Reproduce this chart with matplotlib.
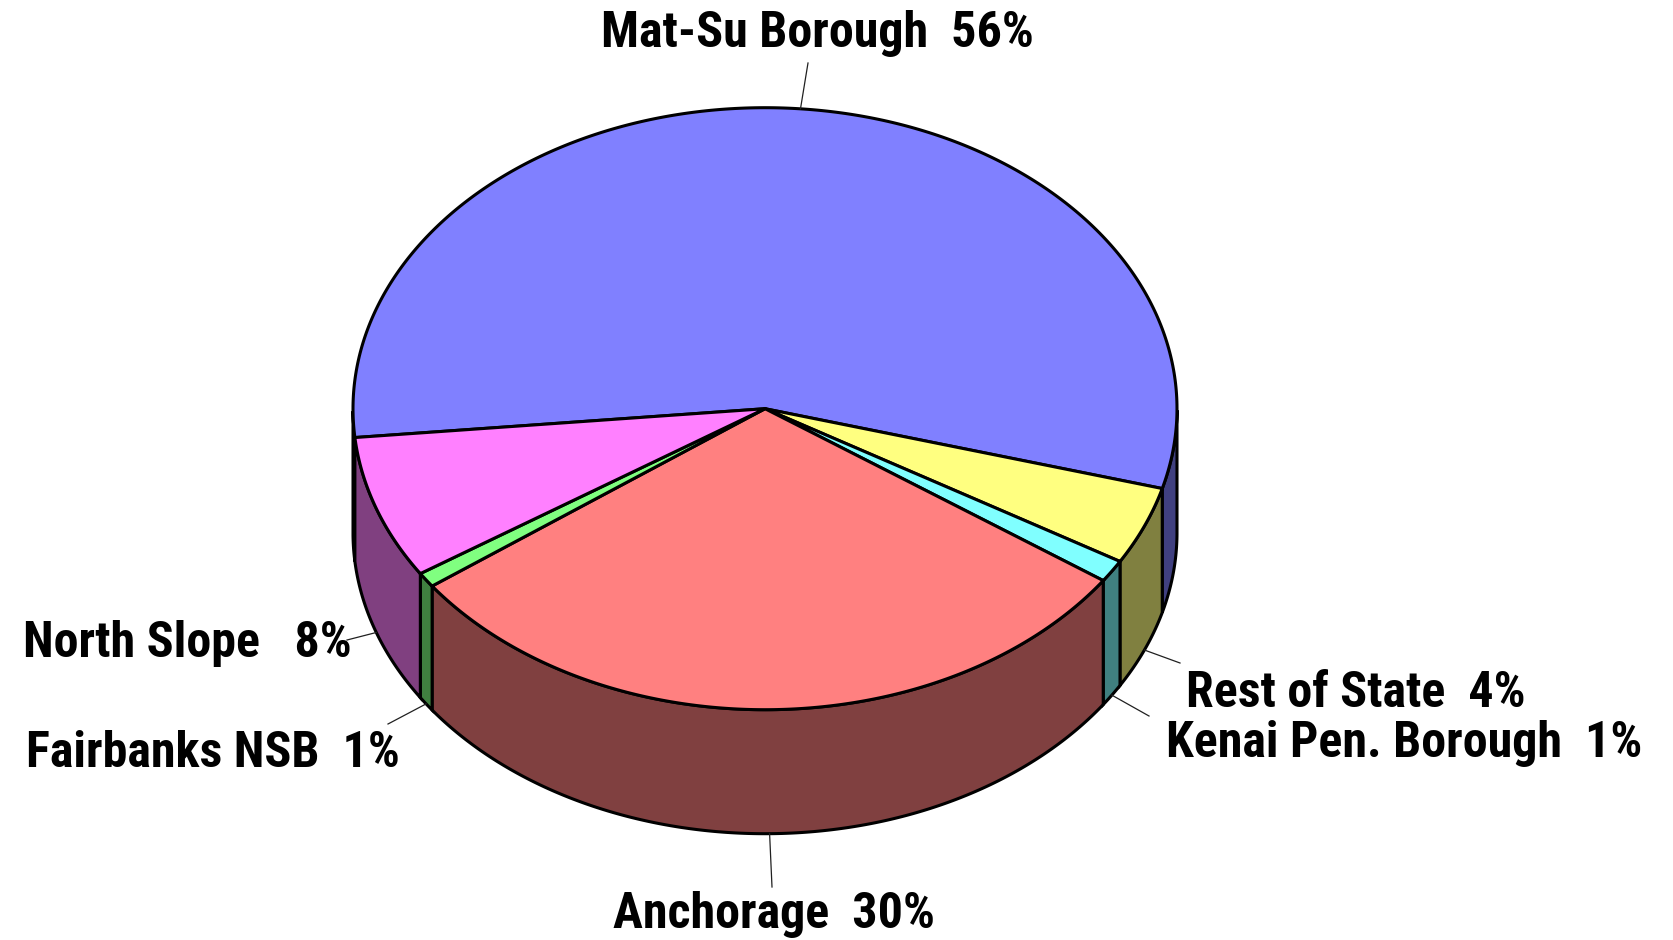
import numpy as np
import matplotlib
matplotlib.use("Agg")
import matplotlib.pyplot as plt
from matplotlib.patches import Polygon

# ── data ──────────────────────────────────────────────
names = ["Mat-Su Borough", "Rest of State", "Kenai Pen. Borough",
         "Anchorage", "Fairbanks NSB", "North Slope "]
shares = [55.8, 4.2, 1.2, 30.3, 0.8, 7.7]
top_colors = ["#8080FF", "#FFFF80", "#80FFFF", "#FF8080", "#80FF80", "#FF80FF"]
side_colors = ["#404080", "#808040", "#408080", "#804040", "#408040", "#804080"]

# ── layout (pixels) ───────────────────────────────────
W, H = 1673, 940
cx, cy = 765, 408.7
rx, ry = 412, 301
depth = 124
start_angle = 185.5          # degrees, slices run clockwise

# text centre (x, baseline y) and leader end point near the label
label_pos = [(817, 47), (1356, 707), (1404, 757),
             (774, 928), (213, 767), (187, 657)]
leader_end = [(808, 63), (1180, 663), (1149, 716),
              (772, 887), (388, 724), (347, 640)]

fig = plt.figure(figsize=(W / 100, H / 100), dpi=100)
ax = fig.add_axes([0, 0, 1, 1])
ax.set_xlim(0, W)
ax.set_ylim(H, 0)
ax.axis("off")


def ell(t):
    t = np.radians(t)
    return cx + rx * np.cos(t), cy - ry * np.sin(t)


bounds = start_angle - np.cumsum([0] + shares) * 3.6

# sides (front half only)
for i in range(len(shares)):
    a, b = bounds[i], bounds[i + 1]
    t = np.linspace(b, a, 400)
    vis = np.sin(np.radians(t)) <= 0
    idx = np.flatnonzero(vis)
    if idx.size == 0:
        continue
    runs = np.split(idx, np.flatnonzero(np.diff(idx) > 1) + 1)
    for r in runs:
        x, y = ell(t[r])
        pts = np.column_stack([np.r_[x, x[::-1]], np.r_[y, y[::-1] + depth]])
        ax.add_patch(Polygon(pts, closed=True, fc=side_colors[i], ec="black",
                             lw=2.2, joinstyle="miter"))

# tops
for i in range(len(shares)):
    a, b = bounds[i], bounds[i + 1]
    t = np.linspace(a, b, 300)
    x, y = ell(t)
    pts = np.column_stack([np.r_[cx, x], np.r_[cy, y]])
    ax.add_patch(Polygon(pts, closed=True, fc=top_colors[i], ec="black",
                         lw=2.2, joinstyle="miter"))

# labels + leader lines
fam = ["Roboto Condensed", "Liberation Sans", "DejaVu Sans"]
for i, name in enumerate(names):
    mid = (bounds[i] + bounds[i + 1]) / 2
    px, py = ell(mid)
    if np.sin(np.radians(mid)) < 0:
        py = py + depth
    lx, ly = leader_end[i]
    ax.plot([px, lx], [py, ly], color="#202020", lw=0.9)
    tx, ty = label_pos[i]
    ax.text(tx, ty, f"{name}  {round(shares[i])}%", ha="center", va="baseline",
            fontsize=36, fontweight="bold", family=fam, color="black")

fig.savefig("out.png", dpi=100)
